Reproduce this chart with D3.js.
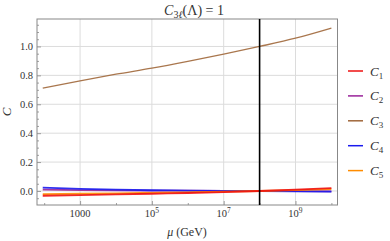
<!DOCTYPE html>
<html>
<head>
<meta charset="utf-8">
<script src="https://cdn.jsdelivr.net/npm/d3@7"></script>
<style>
  body { margin: 0; background: #fff; }
  text { font-family: "Liberation Serif", "DejaVu Serif", serif; fill: #333; }
</style>
</head>
<body>
<svg id="chart"></svg>
<script>
var w = 390;
var h = 241;

// data: log10(mu / GeV) and Wilson coefficients
var logMu = [1.96, 3, 4, 5, 6, 7, 8, 9, 10];
var c1 = [-0.033, -0.028, -0.024, -0.019, -0.014, -0.008, 0, 0.009, 0.02];
var c2 = [0.009, 0.006, 0.004, 0.003, 0.002, 0.001, 0, -0.001, -0.003];
var c3 = [0.711, 0.762, 0.808, 0.85, 0.897, 0.947, 1.0, 1.057, 1.127];
var c4 = [0.023, 0.015, 0.009, 0.005, 0.003, 0.001, 0, -0.002, -0.004];
var c5 = [-0.022, -0.019, -0.016, -0.013, -0.009, -0.005, 0, 0.006, 0.013];
var lambdaLog = 8;

var xTicks = [3, 5, 7, 9];
var xMinor = [2, 4, 6, 8, 10];
var yTicks = [0, 0.2, 0.4, 0.6, 0.8, 1.0];

var series = [
    { name: "2", values: c2, color: "#992299" },
    { name: "4", values: c4, color: "#1a1aee" },
    { name: "5", values: c5, color: "#ff8c00" },
    { name: "1", values: c1, color: "#ee1111" },
    { name: "3", values: c3, color: "#a0673a" }
];
var legendOrder = ["1", "2", "3", "4", "5"];

var pLeft = 37, pRight = 337.5, pTop = 19, pBottom = 205;

var svg = d3.select("#chart").attr("width", w).attr("height", h);

var x = d3.scaleLinear().domain([1.8, 10.17]).range([pLeft, pRight]);
var y = d3.scaleLinear().domain([-0.097, 1.19]).range([pBottom, pTop]);

// grid
svg.selectAll("line.gx").data(xTicks).enter().append("line")
    .attr("x1", d => x(d)).attr("x2", d => x(d))
    .attr("y1", pTop).attr("y2", pBottom)
    .attr("stroke", "#dcdcdc").attr("stroke-width", 1);
svg.selectAll("line.gy").data(yTicks).enter().append("line")
    .attr("x1", pLeft).attr("x2", pRight)
    .attr("y1", d => y(d)).attr("y2", d => y(d))
    .attr("stroke", "#dcdcdc").attr("stroke-width", 1);

// axes with inward ticks
var yMinor = d3.range(-0.05, 1.19, 0.05).filter(v => Math.abs(Math.round(v * 5) - v * 5) > 0.01);

var gx = svg.append("g").attr("transform", "translate(0," + pBottom + ")")
    .call(d3.axisBottom(x).tickValues(xTicks).tickSize(-4).tickFormat(""));
var gxm = svg.append("g").attr("transform", "translate(0," + pBottom + ")")
    .call(d3.axisBottom(x).tickValues(xMinor).tickSize(-2).tickFormat(""));
var gy = svg.append("g").attr("transform", "translate(" + pLeft + ",0)")
    .call(d3.axisLeft(y).tickValues(yTicks).tickSize(-4).tickPadding(4)
        .tickFormat(d3.format(".1f")));
var gym = svg.append("g").attr("transform", "translate(" + pLeft + ",0)")
    .call(d3.axisLeft(y).tickValues(yMinor).tickSize(-2).tickFormat(""));

[gx, gxm, gy, gym].forEach(function (g) {
    g.select(".domain").remove();
    g.selectAll(".tick line").attr("stroke", "#888").attr("stroke-width", 0.8);
});
gy.selectAll(".tick text")
    .attr("font-family", "Liberation Serif").attr("font-size", "10.5px").attr("fill", "#333");

// x tick labels as powers
xTicks.forEach(function (t) {
    var tx = svg.append("text")
        .attr("x", x(t)).attr("y", 217)
        .attr("text-anchor", "middle")
        .attr("font-size", "10.5px");
    if (t === 3) {
        tx.text("1000");
    } else {
        tx.append("tspan").text("10");
        tx.append("tspan").attr("dy", -4).attr("font-size", "7.5px").text(t);
    }
});

// frame
svg.append("rect")
    .attr("x", pLeft).attr("y", pTop)
    .attr("width", pRight - pLeft).attr("height", pBottom - pTop)
    .attr("fill", "none").attr("stroke", "#888").attr("stroke-width", 1);

// lines
var line = d3.line()
    .x((d, i) => x(logMu[i]))
    .y(d => y(d))
    .curve(d3.curveMonotoneX);

series.forEach(function (s) {
    svg.append("path")
        .datum(s.values)
        .attr("d", line)
        .attr("fill", "none")
        .attr("stroke", s.color)
        .attr("stroke-width", s.name === "3" ? 1.3 : 1.8)
        .attr("stroke-opacity", 0.9);
});

// Lambda marker
svg.append("line")
    .attr("x1", x(lambdaLog)).attr("x2", x(lambdaLog))
    .attr("y1", pTop).attr("y2", pBottom)
    .attr("stroke", "#000").attr("stroke-width", 1.6);

// title
var title = svg.append("text")
    .attr("x", 194).attr("y", 15)
    .attr("text-anchor", "middle")
    .attr("font-size", "14px").attr("fill", "#222");
title.append("tspan").attr("font-style", "italic").text("C");
title.append("tspan").attr("dy", 3).attr("font-size", "10px").text("3");
title.append("tspan").attr("font-size", "10px").attr("font-style", "italic").text("ℓ");
title.append("tspan").attr("dy", -3).text("(Λ) = 1");

// axis labels
svg.append("text")
    .attr("x", 187).attr("y", 236)
    .attr("text-anchor", "middle")
    .attr("font-size", "12px")
    .html('<tspan font-style="italic">μ</tspan> (GeV)');

svg.append("text")
    .attr("transform", "translate(11,112) rotate(-90)")
    .attr("text-anchor", "middle")
    .attr("font-size", "13px").attr("font-style", "italic")
    .text("C");

// legend
var colorOf = {};
series.forEach(s => colorOf[s.name] = s.color);
legendOrder.forEach(function (n, i) {
    var ly = 71 + i * 24.9;
    svg.append("line")
        .attr("x1", 348).attr("x2", 363)
        .attr("y1", ly).attr("y2", ly)
        .attr("stroke", colorOf[n]).attr("stroke-width", 1.5);
    var t = svg.append("text")
        .attr("x", 370).attr("y", ly + 4.5)
        .attr("font-size", "13px");
    t.append("tspan").attr("font-style", "italic").text("C");
    t.append("tspan").attr("dy", 3).attr("font-size", "9px").text(n);
});
</script>
</body>
</html>
